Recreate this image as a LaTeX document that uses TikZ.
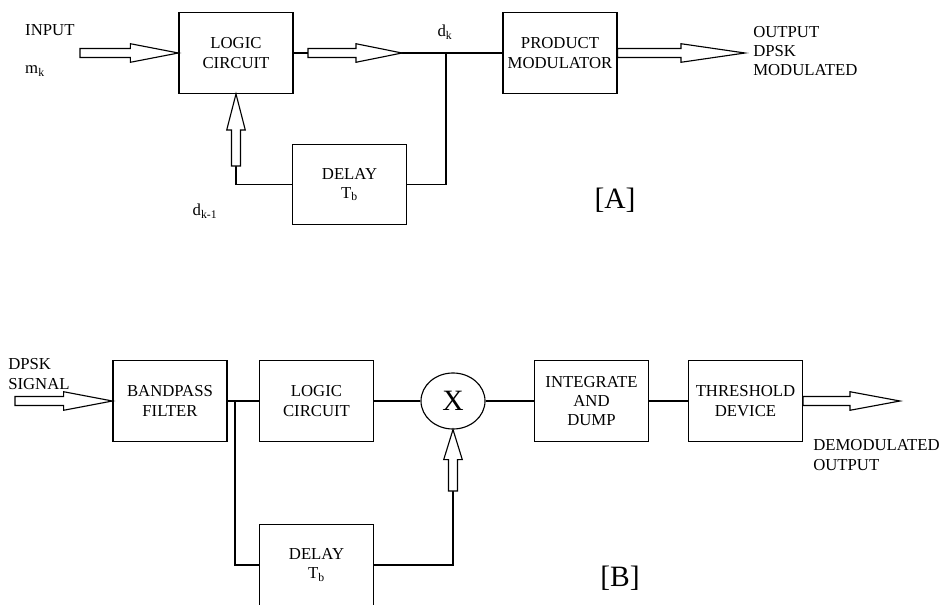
\documentclass[tikz,border=0pt]{standalone}
\usepackage{fontspec}
\setmainfont{Liberation Serif}
\usetikzlibrary{calc}
\usetikzlibrary{shapes.geometric}

\def\fatw{3.2pt}
\def\fatW{6.6pt}
\newcommand{\fatarrow}[3][1.2cm]{%
  \draw[fatarr] ($(#2)!\fatw!90:(#3)$) -- ($(#3)!#1!(#2)!\fatw!90:(#3)$) -- ($(#3)!#1!(#2)!\fatW!90:(#3)$) -- (#3)
    -- ($(#3)!#1!(#2)!\fatW!-90:(#3)$) -- ($(#3)!#1!(#2)!\fatw!-90:(#3)$) -- ($(#2)!\fatw!-90:(#3)$) -- cycle;}

\begin{document}
\begin{tikzpicture}[x=0.025cm, y=-0.025cm, line width=0.8pt,
  every node/.style={font=\fontsize{11.9}{13.8}\selectfont},
  blk/.style={draw, minimum width=2.85cm, minimum height=2.02cm, align=center, inner sep=1pt},
  fatarr/.style={draw, fill=white, line join=miter},
  big/.style={font=\fontsize{21}{24}\selectfont}]
\useasboundingbox (0,0) rectangle (942,605);

\node[blk] (logicA) at (236,53) {LOGIC\\CIRCUIT};
\node[blk] (prod) at (560,53) {PRODUCT\\MODULATOR};
\node[blk] (delayA) at (349.5,184.5) {DELAY\\T\textsubscript{b}};
\node[anchor=west] (inlbl) at (20,30) {INPUT};
\node[anchor=west] (mk) at (20,71) {m\textsubscript{k}};
\node (dk) at (445,32) {d\textsubscript{k}};
\node (dk1) at (205,211) {d\textsubscript{k-1}};
\node[anchor=west, align=left] (outlbl) at (748,51) {OUTPUT\\DPSK\\MODULATED};
\node[big] (tagA) at (615,200) {[A]};

\coordinate (inA) at (80,53);
\coordinate (midA1) at (308,53);
\coordinate (midA2) at (402,53);
\coordinate (jA) at (446,53);
\coordinate (fbA) at (236,166);
\coordinate (outA) at (745,53);
\draw (logicA.east) -- (prod.west);
\draw (delayA.east) -| (jA);
\draw (delayA.west) -| (fbA);
\fatarrow[1.2cm]{inA}{logicA.west}
\fatarrow[1.15cm]{midA1}{midA2}
\fatarrow[0.9cm]{fbA}{logicA.south}
\fatarrow[1.6cm]{prod.east}{outA}

\node[blk] (bpf) at (170,401) {BANDPASS\\FILTER};
\node[blk] (logicB) at (316.5,401) {LOGIC\\CIRCUIT};
\node[draw, ellipse, minimum width=1.6cm, minimum height=1.4cm, inner sep=0pt, big] (mult) at (453,401) {X};
\node[blk] (integ) at (591.5,401) {INTEGRATE\\AND\\DUMP};
\node[blk] (thresh) at (745.5,401) {THRESHOLD\\DEVICE};
\node[blk] (delayB) at (316.5,565) {DELAY\\T\textsubscript{b}};
\node[anchor=west, align=left] (sigB) at (3,374) {DPSK\\SIGNAL};
\node[anchor=west, align=left] (demod) at (808,455) {DEMODULATED\\OUTPUT};
\node[big] (tagB) at (620,578) {[B]};

\coordinate (inB) at (15,401);
\coordinate (jB) at (235,401);
\coordinate (fbB) at (453,491);
\coordinate (outB) at (900,401);
\foreach \a/\b in {bpf/logicB, logicB/mult, mult/integ, integ/thresh}
  \draw (\a) -- (\b);
\draw (jB) |- (delayB.west);
\draw (delayB.east) -| (fbB);
\fatarrow[1.22cm]{inB}{bpf.west}
\fatarrow[0.75cm]{fbB}{mult.south}
\fatarrow[1.25cm]{thresh.east}{outB}
\end{tikzpicture}
\end{document}
